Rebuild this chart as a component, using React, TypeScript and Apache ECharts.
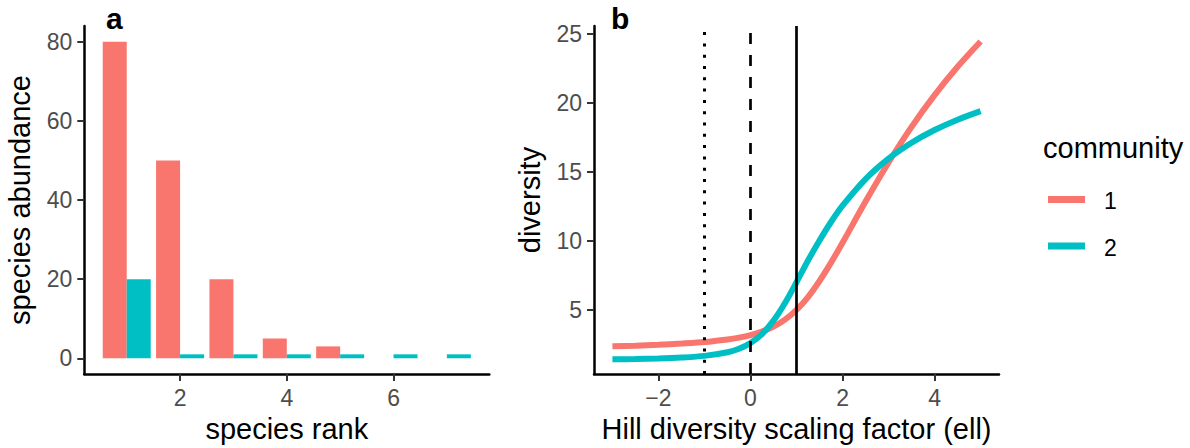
import React, { useEffect, useRef } from "react";
import * as echarts from "echarts";

// ---- data ----
const ranks = [1, 2, 3, 4, 5, 6, 7];
const abundance1: (number | null)[] = [80, 50, 20, 5, 3, null, null];
const abundance2: (number | null)[] = [20, 1, 1, 1, 1, 1, 1];

const ell = [-3, -2.5, -2, -1.5, -1, -0.5, -0.25, 0, 0.25, 0.5, 0.75, 1, 1.25, 1.5, 1.75, 2, 2.5, 3, 3.5, 4, 4.5, 5];
const diversity1 = [2.36, 2.41, 2.47, 2.56, 2.67, 2.86, 2.99, 3.17, 3.43, 3.79, 4.29, 5.0, 5.93, 7.09, 8.42, 9.86, 12.84, 15.67, 18.25, 20.55, 22.6, 24.43];
const diversity2 = [1.42, 1.44, 1.48, 1.55, 1.67, 1.93, 2.18, 2.6, 3.25, 4.22, 5.5, 7.0, 8.57, 10.02, 11.36, 12.54, 14.47, 15.95, 17.1, 18.02, 18.77, 19.39];

const communities = ["1", "2"];
const colors = ["#F8766D", "#00BFC4"];

const refLines = [-1, 0, 1];
const refLineTypes: any[] = [[3, 8.3], [11, 11], "solid"];
const refLineWidths = [3, 2.7, 2.7];

const rankTicks = [2, 4, 6];
const abundanceTicks = [0, 20, 40, 60, 80];
const ellTicks = [-2, 0, 2, 4];
const diversityTicks = [5, 10, 15, 20, 25];

const FONT = "'Liberation Sans', Arial, Helvetica, sans-serif";

function axisBase(ticks: number[], extra: any) {
  return {
    type: "value",
    splitLine: { show: false },
    axisLine: { show: true, onZero: false, lineStyle: { color: "#000", width: 2.5 } },
    axisTick: { show: true, customValues: ticks, length: 7, lineStyle: { color: "#333", width: 2 } },
    axisLabel: {
      customValues: ticks,
      fontSize: 23,
      color: "#4D4D4D",
      margin: 12,
      fontFamily: FONT,
      formatter: (v: number) => String(v).replace("-", "\u2212"),
    },
    nameLocation: "middle",
    nameTextStyle: { fontSize: 29, color: "#000", fontFamily: FONT },
    ...extra,
  };
}

export default function App() {
  const ref = useRef<HTMLDivElement>(null);
  useEffect(() => {
    document.body.style.margin = "0";
    const chart = echarts.init(ref.current!, null, { renderer: "svg" });
    const bar1 = ranks.map((r, i) => [r, abundance1[i]]).filter((d) => d[1] != null);
    const bar2 = ranks.map((r, i) => [r, abundance2[i]]).filter((d) => d[1] != null);
    const line1 = ell.map((x, i) => [x, diversity1[i]]);
    const line2 = ell.map((x, i) => [x, diversity2[i]]);
    const lineSeries = [line1, line2];

    const legendGraphics: any[] = [
      {
        type: "text",
        x: 1043,
        y: 148,
        style: { text: "community", fontSize: 29, fill: "#000", fontFamily: FONT, verticalAlign: "middle" },
      },
    ];
    communities.forEach((c, i) => {
      const cy = 199.5 + i * 46.5;
      legendGraphics.push({
        type: "rect",
        shape: { x: 1048, y: cy - 3.5, width: 37, height: 7 },
        style: { fill: colors[i] },
      });
      legendGraphics.push({
        type: "text",
        x: 1104,
        y: cy + 1.5,
        style: { text: c, fontSize: 23, fill: "#000", fontFamily: FONT, verticalAlign: "middle" },
      });
    });

    chart.setOption({
      animation: false,
      textStyle: { fontFamily: FONT },
      grid: [
        { left: 84.3, top: 26, width: 405, height: 350.7 },
        { left: 594, top: 26, width: 405, height: 350.7 },
      ],
      xAxis: [
        axisBase(rankTicks, { gridIndex: 0, min: 0.205, max: 7.795, name: "species rank", nameGap: 38 }),
        axisBase(ellTicks, { gridIndex: 1, min: -3.4, max: 5.4, name: "Hill diversity scaling factor (ell)", nameGap: 38 }),
      ],
      yAxis: [
        axisBase(abundanceTicks, { gridIndex: 0, min: -4, max: 84, name: "species abundance", nameGap: 50 }),
        axisBase(diversityTicks, { gridIndex: 1, min: 0.35, max: 25.55, name: "diversity", nameGap: 50 }),
      ],
      series: [
        {
          type: "bar",
          name: communities[0],
          xAxisIndex: 0,
          yAxisIndex: 0,
          data: bar1,
          barWidth: 24,
          barGap: "0%",
          itemStyle: { color: colors[0] },
        },
        {
          type: "bar",
          name: communities[1],
          xAxisIndex: 0,
          yAxisIndex: 0,
          data: bar2,
          barWidth: 24,
          barGap: "0%",
          itemStyle: { color: colors[1] },
        },
        {
          type: "line",
          xAxisIndex: 1,
          yAxisIndex: 1,
          data: [],
          z: 1,
          markLine: {
            silent: true,
            symbol: "none",
            label: { show: false },
            data: refLines.map((v, i) => ({
              xAxis: v,
              lineStyle: { color: "#000", width: refLineWidths[i], type: refLineTypes[i] },
            })),
          },
        },
        ...communities.map((c, i) => ({
          type: "line",
          name: c,
          xAxisIndex: 1,
          yAxisIndex: 1,
          data: lineSeries[i],
          smooth: 0.3,
          showSymbol: false,
          symbol: "none",
          z: 3 + i,
          lineStyle: { color: colors[i], width: 6 },
        })),
      ],
      graphic: [
        {
          type: "text",
          x: 106,
          y: 18,
          style: { text: "a", fontSize: 30, fontWeight: "bold", fill: "#000", fontFamily: FONT, verticalAlign: "middle" },
        },
        {
          type: "text",
          x: 611,
          y: 18,
          style: { text: "b", fontSize: 30, fontWeight: "bold", fill: "#000", fontFamily: FONT, verticalAlign: "middle" },
        },
        ...legendGraphics,
      ],
    });
    return () => chart.dispose();
  }, []);
  return <div ref={ref} style={{ width: 1190, height: 448 }} />;
}
